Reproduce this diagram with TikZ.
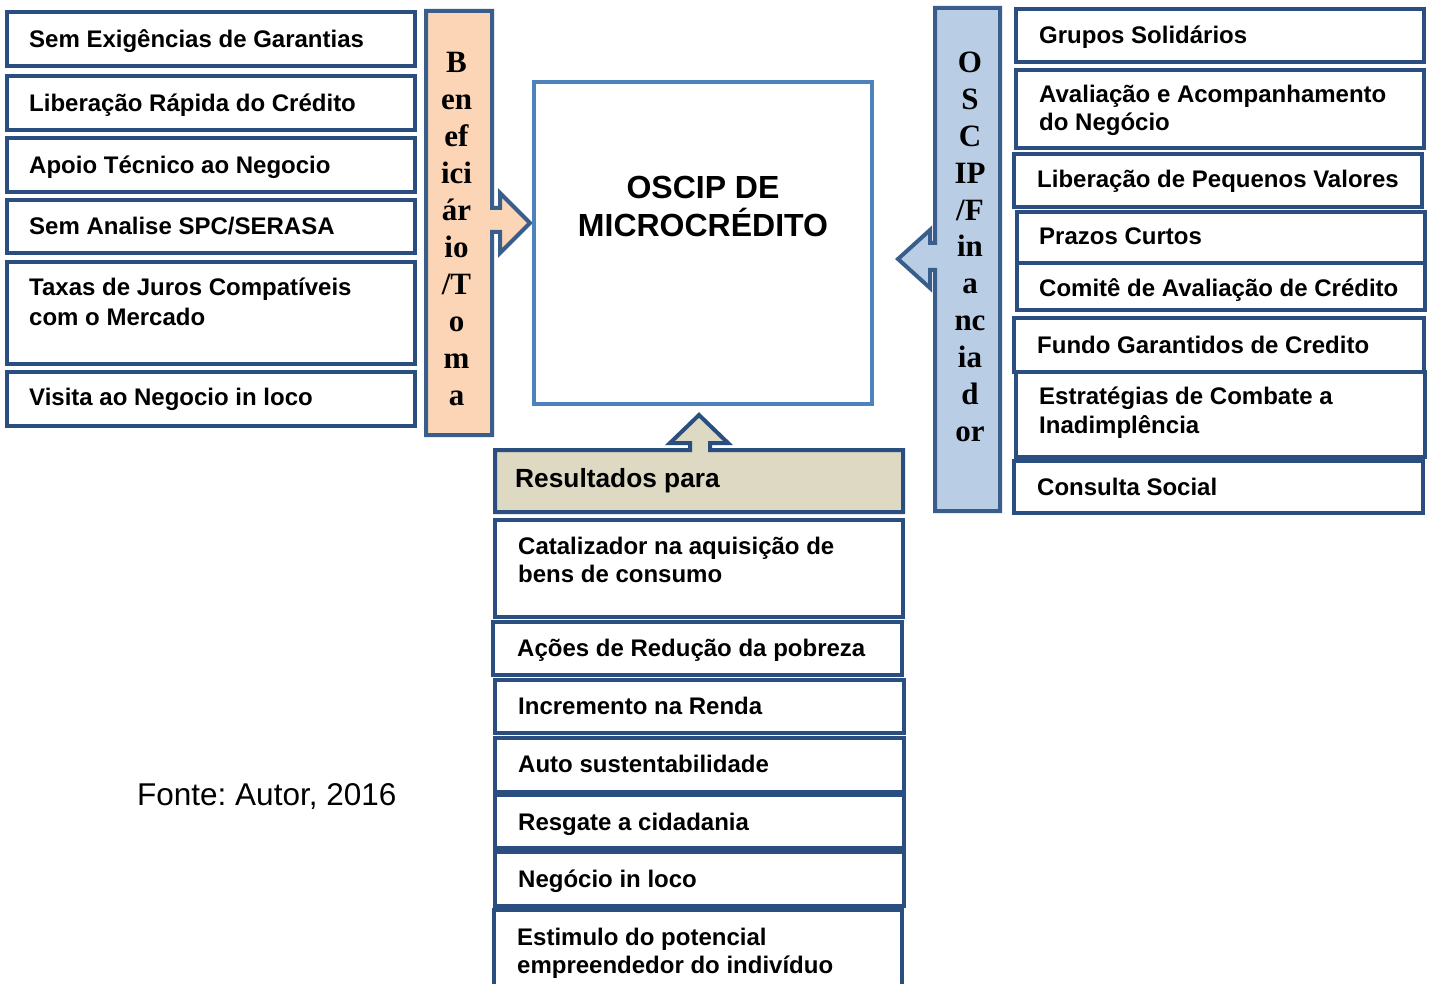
\documentclass[tikz,border=0pt]{standalone}
\usepackage{fontspec}
\setmainfont{Liberation Sans}
\newfontfamily\serifb{Liberation Serif}
\frenchspacing
\definecolor{boxc}{RGB}{43,78,128}
\definecolor{barc}{RGB}{58,94,140}
\definecolor{midc}{RGB}{79,129,189}
\definecolor{peach}{RGB}{251,213,181}
\definecolor{lblue}{RGB}{185,205,229}
\definecolor{beige}{RGB}{221,217,195}
\newcommand\bxx[4]{\draw[boxst] (#1,#2) rectangle (#3,#4);}
\begin{document}
\begin{tikzpicture}[x=1pt,y=-1pt,
  boxst/.style={draw=boxc, line width=3.5pt, fill=white},
  lbl/.style={anchor=base west, inner sep=0pt, font=\bfseries\fontsize{24}{28}\selectfont},
  vt/.style={anchor=base, inner sep=0pt, font=\serifb\bfseries\fontsize{31}{36}\selectfont},
  bar/.style={draw=barc, line width=4pt, line join=miter}
]
\useasboundingbox (0,0) rectangle (1432,984);
\clip (0,0) rectangle (1432,984);
\fill[white] (0,0) rectangle (1432,984);

% ---------- left column ----------
\bxx{7}{12}{415}{66}
\bxx{7}{76}{415}{130}
\bxx{7}{138}{415}{192}
\bxx{7}{200}{415}{253}
\bxx{7}{262}{415}{364}
\bxx{7}{372}{415}{426}
\node[lbl] (l1) at (29,48) {Sem Exigências de Garantias};
\node[lbl] (l2) at (29,112) {Liberação Rápida do Crédito};
\node[lbl] (l3) at (29,174) {Apoio Técnico ao Negocio};
\node[lbl] (l4) at (29,235) {Sem Analise SPC/SERASA};
\node[lbl] (l5a) at (29,296) {Taxas de Juros Compatíveis};
\node[lbl] (l5b) at (29,325) {com o Mercado};
\node[lbl] (l6) at (29,405) {Visita ao Negocio in loco};

% ---------- beneficiary bar with right arrow ----------
\draw[bar, fill=peach] (426,11) -- (492,11) -- (492,208) -- (500,208) -- (500,193)
  -- (530,223) -- (500,253) -- (500,232) -- (492,232) -- (492,435) -- (426,435) -- cycle;
\foreach \t [count=\i from 0] in {B,en,ef,ici,ár,io,/T,o,m,a}
  \node[vt] (ben\i) at (456.5,{73+36.9*\i}) {\t};

% ---------- central box ----------
\draw[draw=midc, line width=3.5pt, fill=white] (534,82) rectangle (872,404);
\node[anchor=base, inner sep=0pt, font=\bfseries\fontsize{32}{36}\selectfont] (c1) at (703,199) {OSCIP DE};
\node[anchor=base, inner sep=0pt, font=\bfseries\fontsize{32}{36}\selectfont] (c2) at (703,237) {MICROCRÉDITO};

% ---------- OSCIP bar with left arrow ----------
\draw[bar, fill=lblue] (935,8) -- (1000,8) -- (1000,511) -- (935,511) -- (935,270)
  -- (930,270) -- (930,288) -- (898,259) -- (930,230) -- (930,243) -- (935,243) -- cycle;
\foreach \t [count=\i from 0] in {O,S,C,IP,/F,in,a,nc,ia,d,or}
  \node[vt] (osc\i) at (970,{73+36.8*\i}) {\t};

% ---------- right column ----------
\bxx{1016}{9}{1424}{62}
\bxx{1016}{70}{1424}{148}
\bxx{1014}{154}{1422}{207}
\bxx{1017}{212}{1425}{263}
\bxx{1017}{263}{1425}{310}
\bxx{1014}{318}{1424}{372}
\bxx{1016}{372}{1425}{457}
\bxx{1014}{461}{1423}{513}
\node[lbl] (r1) at (1039,44) {Grupos Solidários};
\node[lbl] (r2a) at (1039,103) {Avaliação e Acompanhamento};
\node[lbl] (r2b) at (1039,131) {do Negócio};
\node[lbl] (r3) at (1037,188) {Liberação de Pequenos Valores};
\node[lbl] (r4) at (1039,245) {Prazos Curtos};
\node[lbl] (r5) at (1039,297) {Comitê de Avaliação de Crédito};
\node[lbl] (r6) at (1037,353) {Fundo Garantidos de Credito};
\node[lbl] (r7a) at (1039,404) {Estratégias de Combate a};
\node[lbl] (r7b) at (1039,433) {Inadimplência};
\node[lbl] (r8) at (1037,495) {Consulta Social};

% ---------- results box with up arrow ----------
\draw[bar, draw=boxc, fill=beige] (495,450) -- (690,450) -- (690,443) -- (670,443) -- (699,415)
  -- (728,443) -- (710,443) -- (710,450) -- (903,450) -- (903,512) -- (495,512) -- cycle;
\node[anchor=base west, inner sep=0pt, font=\bfseries\fontsize{26.3}{30}\selectfont] (res) at (515,487) {Resultados para};

% ---------- bottom column ----------
\bxx{495}{520}{903}{617}
\bxx{493}{622}{902}{675}
\bxx{495}{680}{904}{733}
\bxx{495}{738}{904}{792}
\bxx{495}{795}{904}{848}
\bxx{495}{852}{904}{906}
\bxx{494}{910}{902}{1000}
\node[lbl] (b1a) at (518,554) {Catalizador na aquisição de};
\node[lbl] (b1b) at (518,582) {bens de consumo};
\node[lbl] (b2) at (517,656) {Ações de Redução da pobreza};
\node[lbl] (b3) at (518,714) {Incremento na Renda};
\node[lbl] (b4) at (518,772) {Auto sustentabilidade};
\node[lbl] (b5) at (518,830) {Resgate a cidadania};
\node[lbl] (b6) at (518,887) {Negócio in loco};
\node[lbl] (b7a) at (517,945) {Estimulo do potencial};
\node[lbl] (b7b) at (517,973) {empreendedor do indivíduo};

% ---------- source ----------
\node[anchor=base west, inner sep=0pt, font=\fontsize{31.5}{36}\selectfont] (fonte) at (137,805) {Fonte: Autor, 2016};
\end{tikzpicture}
\end{document}
